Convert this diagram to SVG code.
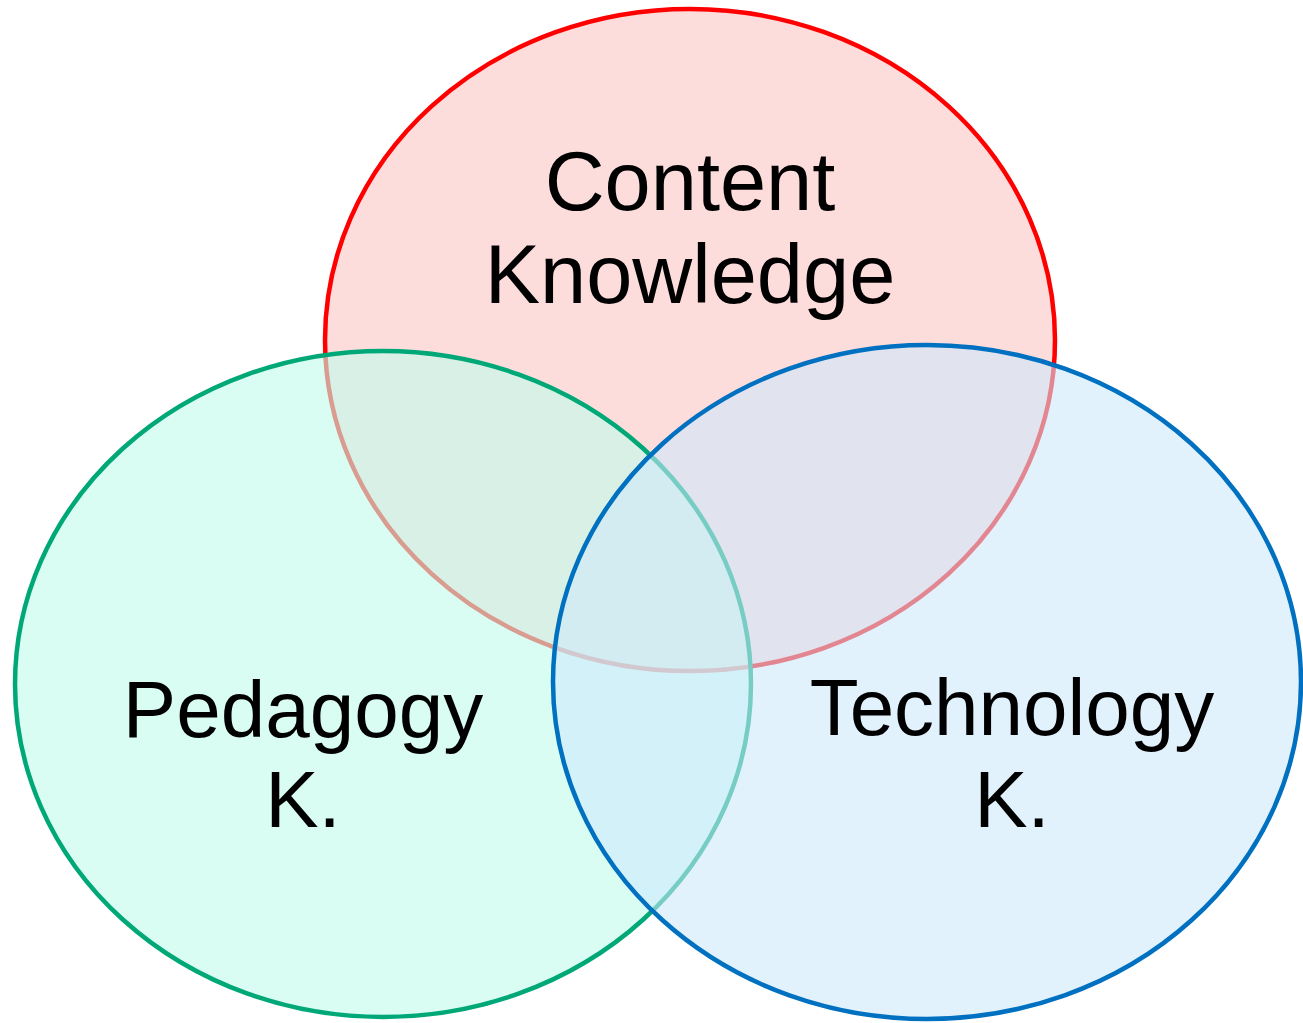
<svg xmlns="http://www.w3.org/2000/svg" width="1303" height="1023" viewBox="0 0 1303 1023">
<style>
.lbl{font-family:"Liberation Sans",Arial,sans-serif;fill:#000;text-anchor:middle}
.c{stroke-width:4.5}
</style>
<rect width="1303" height="1023" fill="#ffffff"/>
<g id="content">
<ellipse class="c" cx="690" cy="340" rx="365" ry="331" fill="#fddcdc" stroke="#ff0000"/>
</g>
<g id="pedagogy">
<ellipse class="c" cx="383" cy="684" rx="368" ry="333" fill="#c1fcea" fill-opacity="0.62" stroke="#00a878"/>
</g>
<g id="technology">
<ellipse class="c" cx="927" cy="682" rx="374" ry="337" fill="#cde9fc" fill-opacity="0.58" stroke="#0070c0"/>
</g>
<g id="labels">
<text class="lbl" font-size="83" x="690" y="210">Content</text>
<text class="lbl" font-size="83" x="690" y="303">Knowledge</text>
<text class="lbl" font-size="80" x="303" y="737">Pedagogy</text>
<text class="lbl" font-size="80" x="303" y="827">K.</text>
<text class="lbl" font-size="80" x="1012" y="735">Technology</text>
<text class="lbl" font-size="80" x="1012" y="827">K.</text>
</g>
<g id="connectors"></g>
</svg>
